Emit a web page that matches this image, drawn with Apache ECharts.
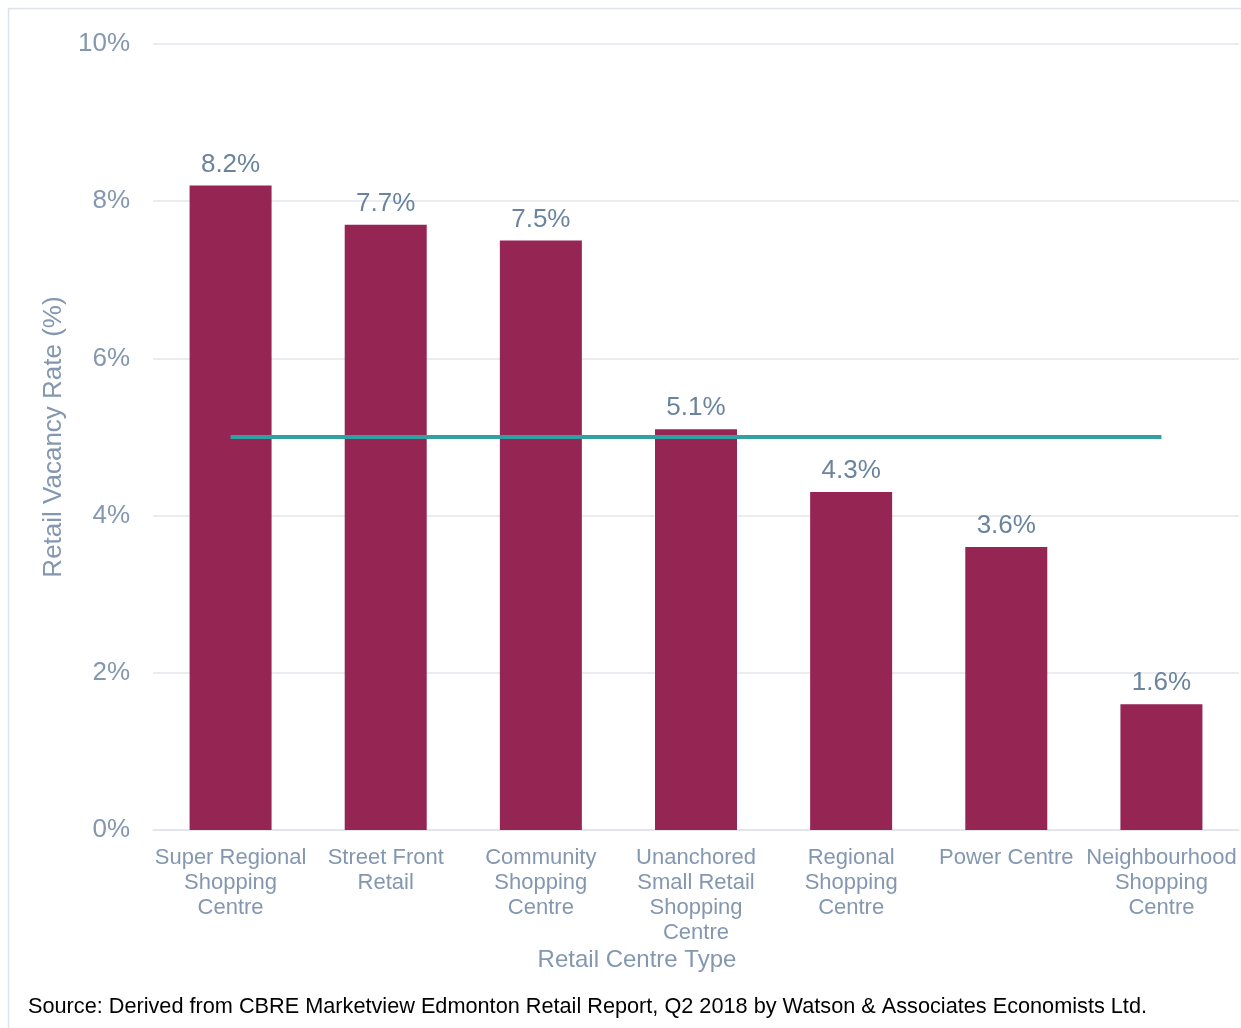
<!DOCTYPE html>
<html><head><meta charset="utf-8">
<script src="https://cdn.jsdelivr.net/npm/echarts@6/dist/echarts.min.js"></script>
<style>html,body{margin:0;padding:0;background:#fff}#c{width:1241px;height:1028px}</style>
</head><body><div id="c"></div>
<script>
var categories = ["Super Regional\nShopping\nCentre", "Street Front\nRetail", "Community\nShopping\nCentre", "Unanchored\nSmall Retail\nShopping\nCentre", "Regional\nShopping\nCentre", "Power Centre", "Neighbourhood\nShopping\nCentre"];
var vacancy = [8.2, 7.7, 7.5, 5.1, 4.3, 3.6, 1.6];
var average = [5.0, 5.0, 5.0, 5.0, 5.0, 5.0, 5.0];
var yTicks = [0, 2, 4, 6, 8, 10];

var chart = echarts.init(document.getElementById('c'));
var axisColor = '#8497b0';
chart.setOption({
  animation: false,
  textStyle: {fontFamily: 'Liberation Sans, Arial, sans-serif'},
  graphic: [
    {type: 'rect', shape: {x: 8.5, y: 8.5, width: 1240, height: 1030}, style: {fill: 'none', stroke: '#dde2e8', lineWidth: 1.5}, silent: true},
    {type: 'text', x: 637, y: 960, style: {text: 'Retail Centre Type', fill: axisColor, font: '24px "Liberation Sans", Arial', textAlign: 'center', textVerticalAlign: 'middle'}},
    {type: 'text', x: 28, y: 1007, style: {text: 'Source: Derived from CBRE Marketview Edmonton Retail Report, Q2 2018 by Watson & Associates Economists Ltd.', fill: '#000', font: '21.7px "Liberation Sans", Arial', textVerticalAlign: 'middle'}}
  ],
  grid: {left: 153, right: 2, top: 44, bottom: 198},
  xAxis: {
    type: 'category', data: categories,
    axisLine: {lineStyle: {color: '#dfe3ea', width: 1.5}},
    axisTick: {show: false},
    axisLabel: {color: axisColor, fontSize: 22, lineHeight: 25, margin: 15, interval: 0}
  },
  yAxis: {
    type: 'value', min: 0, max: 10, interval: 2,
    axisLine: {show: false}, axisTick: {show: false},
    splitLine: {lineStyle: {color: '#e3e6ec', width: 1.5}},
    axisLabel: {color: axisColor, fontSize: 26, margin: 23, formatter: function(v){ return yTicks.indexOf(v) >= 0 ? v + '%' : ''; }},
    name: 'Retail Vacancy Rate (%)', nameLocation: 'middle', nameGap: 84,
    nameTextStyle: {color: axisColor, fontSize: 26}
  },
  series: [
    {type: 'bar', data: vacancy, barWidth: 82,
     itemStyle: {color: '#952553'},
     label: {show: true, position: 'top', distance: 8, color: '#6a84a0', fontSize: 26, formatter: function(p){ return p.value.toFixed(1) + '%'; }}},
    {type: 'line', data: average, symbol: 'none', z: 5,
     lineStyle: {color: '#32a0a2', width: 4}}
  ]
});
</script></body></html>
